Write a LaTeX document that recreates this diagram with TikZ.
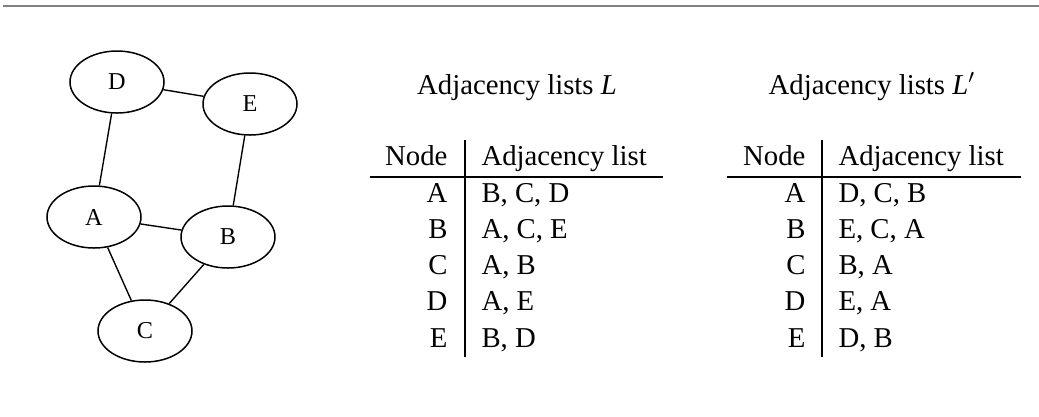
\documentclass[tikz,border=0pt]{standalone}
\usepackage{fontspec}
\setmainfont{Liberation Serif}
\usetikzlibrary{shapes.geometric}

\begin{document}
\begin{tikzpicture}[x=0.4pt,y=-0.4pt,
  vertex/.style={draw, ellipse, line width=0.6pt, minimum width=37.6pt, minimum height=24.8pt, inner sep=0pt, font=\fontsize{9.7}{11}\selectfont},
  edge/.style={line width=0.55pt},
  cell/.style={inner sep=0pt, font=\fontsize{11.5}{14}\selectfont},
  rule/.style={line width=0.45pt}]
\useasboundingbox (0,0) rectangle (1039,416);
\draw[line width=0.8pt, gray] (3,6) -- (1039,6);

% the graph
\node[vertex] (D) at (117,82) {D};
\node[vertex] (E) at (250,104) {E};
\node[vertex] (A) at (94,217) {A};
\node[vertex] (B) at (228,237) {B};
\node[vertex] (C) at (145,331) {C};
\draw[edge] (D) -- (E) (D) -- (A) (E) -- (B) (A) -- (B) (A) -- (C) (B) -- (C);

% table L
\node[cell, anchor=base] (titleL) at (517,94) {Adjacency lists \textit{L}};
\node[cell, anchor=base east] (headL) at (448,165) {Node};
\node[cell, anchor=base west] (headLl) at (481,165) {Adjacency list};
\foreach \n/\l [count=\i from 0] in {A/{B, C, D},B/{A, C, E},C/{A, B},D/{A, E},E/{B, D}} {
  \node[cell, anchor=base east] (L-\n) at (448,{202+36.3*\i}) {\n};
  \node[cell, anchor=base west] (Ll-\n) at (481,{202+36.3*\i}) {\l};
}
\draw[rule] (465,140) -- (465,357);
\draw[rule] (370,177) -- (663,177);

% table L'
\node[cell, anchor=base] (titleM) at (872,94) {Adjacency lists \textit{L}$'$};
\node[cell, anchor=base east] (headM) at (806,165) {Node};
\node[cell, anchor=base west] (headMl) at (838,165) {Adjacency list};
\foreach \n/\l [count=\i from 0] in {A/{D, C, B},B/{E, C, A},C/{B, A},D/{E, A},E/{D, B}} {
  \node[cell, anchor=base east] (M-\n) at (806,{202+36.3*\i}) {\n};
  \node[cell, anchor=base west] (Ml-\n) at (838,{202+36.3*\i}) {\l};
}
\draw[rule] (822,140) -- (822,357);
\draw[rule] (727,177) -- (1021,177);
\end{tikzpicture}
\end{document}
